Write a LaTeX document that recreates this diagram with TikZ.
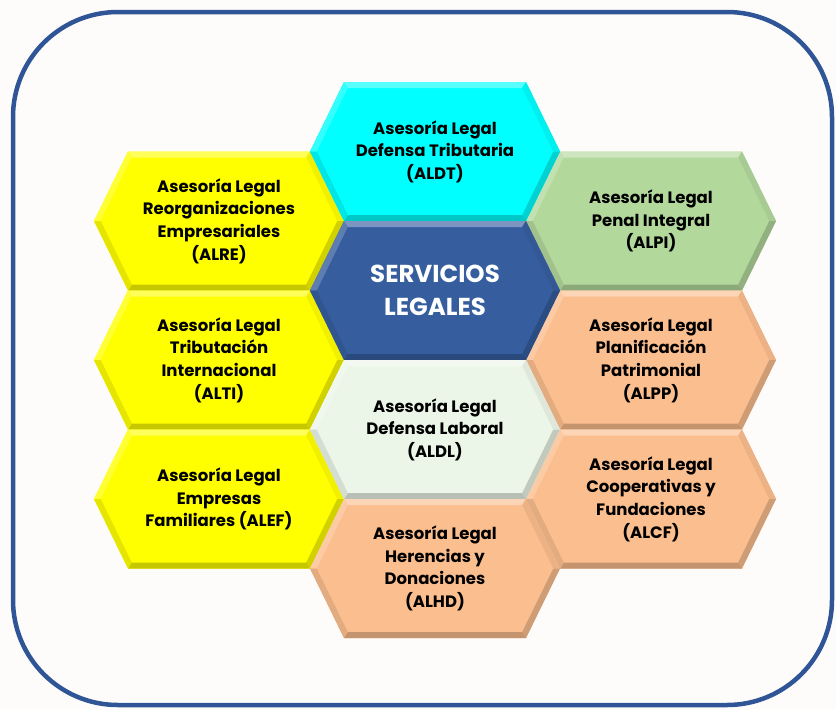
\documentclass[tikz,border=0pt]{standalone}
\usepackage{fontspec}
\setmainfont{Poppins}
\usepackage{xcolor}

\definecolor{frameBlue}{HTML}{2F5597}
\definecolor{paperc}{HTML}{FDFCFB}
\definecolor{yellowc}{HTML}{FFFF00}
\definecolor{cyanc}{HTML}{00FFFF}
\definecolor{corec}{HTML}{365E9F}
\definecolor{greenc}{HTML}{B3D89C}
\definecolor{peachc}{HTML}{FBBE8E}
\definecolor{paleg}{HTML}{ECF6E8}

\tikzset{
  cellText/.style={align=center, text=black, inner sep=0pt,
    font=\bfseries\fontsize{16.5}{22.6}\selectfont},
  coreText/.style={align=center, text=white, inner sep=0pt,
    font=\bfseries\fontsize{24.5}{33}\selectfont},
}

% hexagon cell: [text style]{name}{x}{y}{colour}{text}
\newcommand{\hexcell}[6][cellText]{%
  \begin{scope}[shift={(#3,#4)}]
    \coordinate (#2L) at (-125,0);
    \coordinate (#2TL) at (-91,-69.5);
    \coordinate (#2TR) at (91,-69.5);
    \coordinate (#2R) at (125,0);
    \coordinate (#2BR) at (91,69.5);
    \coordinate (#2BL) at (-91,69.5);
    \coordinate (#2l) at (-118.3,0);
    \coordinate (#2tl) at (-87.2,-63.5);
    \coordinate (#2tr) at (87.2,-63.5);
    \coordinate (#2r) at (118.3,0);
    \coordinate (#2br) at (87.2,63.5);
    \coordinate (#2bl) at (-87.2,63.5);
    \fill[#5] (#2L) -- (#2TL) -- (#2TR) -- (#2R) -- (#2BR) -- (#2BL) -- cycle;
    % bevel
    \fill[#5!65!white] (#2TL) -- (#2TR) -- (#2tr) -- (#2tl) -- cycle;
    \fill[#5!80!white] (#2L) -- (#2TL) -- (#2tl) -- (#2l) -- cycle;
    \fill[#5!94!black] (#2TR) -- (#2R) -- (#2r) -- (#2tr) -- cycle;
    \fill[#5!82!black] (#2R) -- (#2BR) -- (#2br) -- (#2r) -- cycle;
    \fill[#5!78!black] (#2BR) -- (#2BL) -- (#2bl) -- (#2br) -- cycle;
    \fill[#5!90!black] (#2BL) -- (#2L) -- (#2l) -- (#2bl) -- cycle;
  \end{scope}
  \node[#1] (#2) at (#3,#4) {#6};
}

\begin{document}
\begin{tikzpicture}[x=1pt,y=-1pt]
\useasboundingbox (0,0) rectangle (836,710);
\fill[paperc] (0,0) rectangle (836,710);
\draw[frameBlue, line width=4.5pt, rounded corners=105pt] (13,12) rectangle (832,705);

% left column
\hexcell{alre}{219}{221}{yellowc}{Asesoría Legal\\Reorganizaciones\\Empresariales\\(ALRE)}
\hexcell{alti}{219}{360}{yellowc}{Asesoría Legal\\Tributación\\Internacional\\(ALTI)}
\hexcell{alef}{219}{499}{yellowc}{Asesoría Legal\\Empresas\\Familiares (ALEF)}

% right column
\hexcell{alpi}{651}{221}{greenc}{Asesoría Legal\\Penal Integral\\(ALPI)}
\hexcell{alpp}{651}{360}{peachc}{Asesoría Legal\\Planificación\\Patrimonial\\(ALPP)}
\hexcell{alcf}{651}{499}{peachc}{Asesoría Legal\\Cooperativas y\\Fundaciones\\(ALCF)}

% centre column
\hexcell{aldt}{435}{151.5}{cyanc}{Asesoría Legal\\Defensa Tributaria\\(ALDT)}
\hexcell[coreText]{core}{435}{290.5}{corec}{SERVICIOS\\LEGALES}
\hexcell{aldl}{435}{429.5}{paleg}{Asesoría Legal\\Defensa Laboral\\(ALDL)}
\hexcell{alhd}{435}{568.5}{peachc}{Asesoría Legal\\Herencias y\\Donaciones\\(ALHD)}
\end{tikzpicture}
\end{document}
